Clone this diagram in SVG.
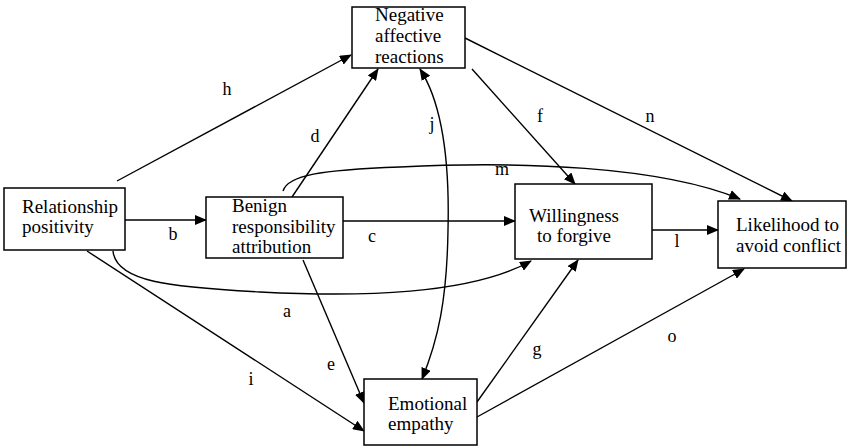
<svg xmlns="http://www.w3.org/2000/svg" width="848" height="448" viewBox="0 0 848 448">
<style>
.box{fill:#fff;stroke:#000;stroke-width:1.5}
.t{font-family:'Liberation Serif','Times New Roman','DejaVu Serif',serif;font-size:19px;fill:#000}
.lbl{font-family:'Liberation Serif','Times New Roman','DejaVu Serif',serif;font-size:18px;fill:#000;text-anchor:middle}
.c{fill:none;stroke:#000;stroke-width:1.4}
</style>
<defs>
<marker id="ah" markerWidth="12" markerHeight="10" refX="11" refY="5" orient="auto" markerUnits="userSpaceOnUse">
<path d="M0,0 L12,5 L0,10 Z" fill="#000"/>
</marker>
<marker id="as" markerWidth="12" markerHeight="10" refX="1" refY="5" orient="auto" markerUnits="userSpaceOnUse">
<path d="M12,0 L0,5 L12,10 Z" fill="#000"/>
</marker>
</defs>
<rect width="848" height="448" fill="#fff"/>
<g id="connectors">
<line class="c" x1="117" y1="181" x2="351" y2="55" marker-end="url(#ah)"/>
<line class="c" x1="125" y1="220" x2="206" y2="220" marker-end="url(#ah)"/>
<line class="c" x1="343" y1="221" x2="515" y2="221" marker-end="url(#ah)"/>
<line class="c" x1="652" y1="230" x2="718" y2="230" marker-end="url(#ah)"/>
<line class="c" x1="292" y1="197" x2="378" y2="69" marker-end="url(#ah)"/>
<line class="c" x1="472" y1="69" x2="575" y2="184" marker-end="url(#ah)"/>
<line class="c" x1="465" y1="38" x2="792" y2="201" marker-end="url(#ah)"/>
<line class="c" x1="303" y1="260" x2="364" y2="403" marker-end="url(#ah)"/>
<line class="c" x1="87" y1="251" x2="364" y2="431" marker-end="url(#ah)"/>
<line class="c" x1="477" y1="402" x2="578" y2="260" marker-end="url(#ah)"/>
<line class="c" x1="477" y1="417" x2="744" y2="269" marker-end="url(#ah)"/>
<path class="c" d="M113,251 C116,282 170,287 260,292 C360,297 470,295 531,261" marker-end="url(#ah)"/>
<path class="c" d="M420,69 C440,100 450,150 448,230 C447,300 438,340 422,379" marker-start="url(#as)" marker-end="url(#ah)"/>
<path class="c" d="M283,191 C288,175 320,170 400,167 C520,161 660,166 740,199" marker-end="url(#ah)"/>
</g>
<g id="labels">
<text class="lbl" x="227" y="95">h</text>
<text class="lbl" x="315" y="142">d</text>
<text class="lbl" x="432" y="130">j</text>
<text class="lbl" x="540" y="122">f</text>
<text class="lbl" x="650" y="122">n</text>
<text class="lbl" x="502" y="175">m</text>
<text class="lbl" x="173" y="240">b</text>
<text class="lbl" x="372" y="242">c</text>
<text class="lbl" x="677" y="247">l</text>
<text class="lbl" x="287" y="317">a</text>
<text class="lbl" x="331" y="370">e</text>
<text class="lbl" x="251" y="385">i</text>
<text class="lbl" x="537" y="355">g</text>
<text class="lbl" x="672" y="342">o</text>
</g>
<g id="relationship">
<rect class="box" x="4" y="188" width="121" height="62"/>
<text class="t" x="22" y="213">Relationship</text>
<text class="t" x="22" y="233">positivity</text>
</g>
<g id="benign">
<rect class="box" x="206" y="197" width="137" height="61"/>
<text class="t" x="232" y="212">Benign</text>
<text class="t" x="232" y="233">responsibility</text>
<text class="t" x="232" y="253">attribution</text>
</g>
<g id="negative">
<rect class="box" x="352" y="7" width="113" height="61"/>
<text class="t" x="375" y="21">Negative</text>
<text class="t" x="375" y="42">affective</text>
<text class="t" x="375" y="63">reactions</text>
</g>
<g id="willingness">
<rect class="box" x="515" y="184" width="137" height="75"/>
<text class="t" x="574" y="222" text-anchor="middle">Willingness</text>
<text class="t" x="574" y="242" text-anchor="middle">to forgive</text>
</g>
<g id="likelihood">
<rect class="box" x="718" y="201" width="128" height="67"/>
<text class="t" x="736" y="231">Likelihood to</text>
<text class="t" x="736" y="252">avoid conflict</text>
</g>
<g id="empathy">
<rect class="box" x="364" y="379" width="113" height="66"/>
<text class="t" x="388" y="410">Emotional</text>
<text class="t" x="388" y="430">empathy</text>
</g>
</svg>
